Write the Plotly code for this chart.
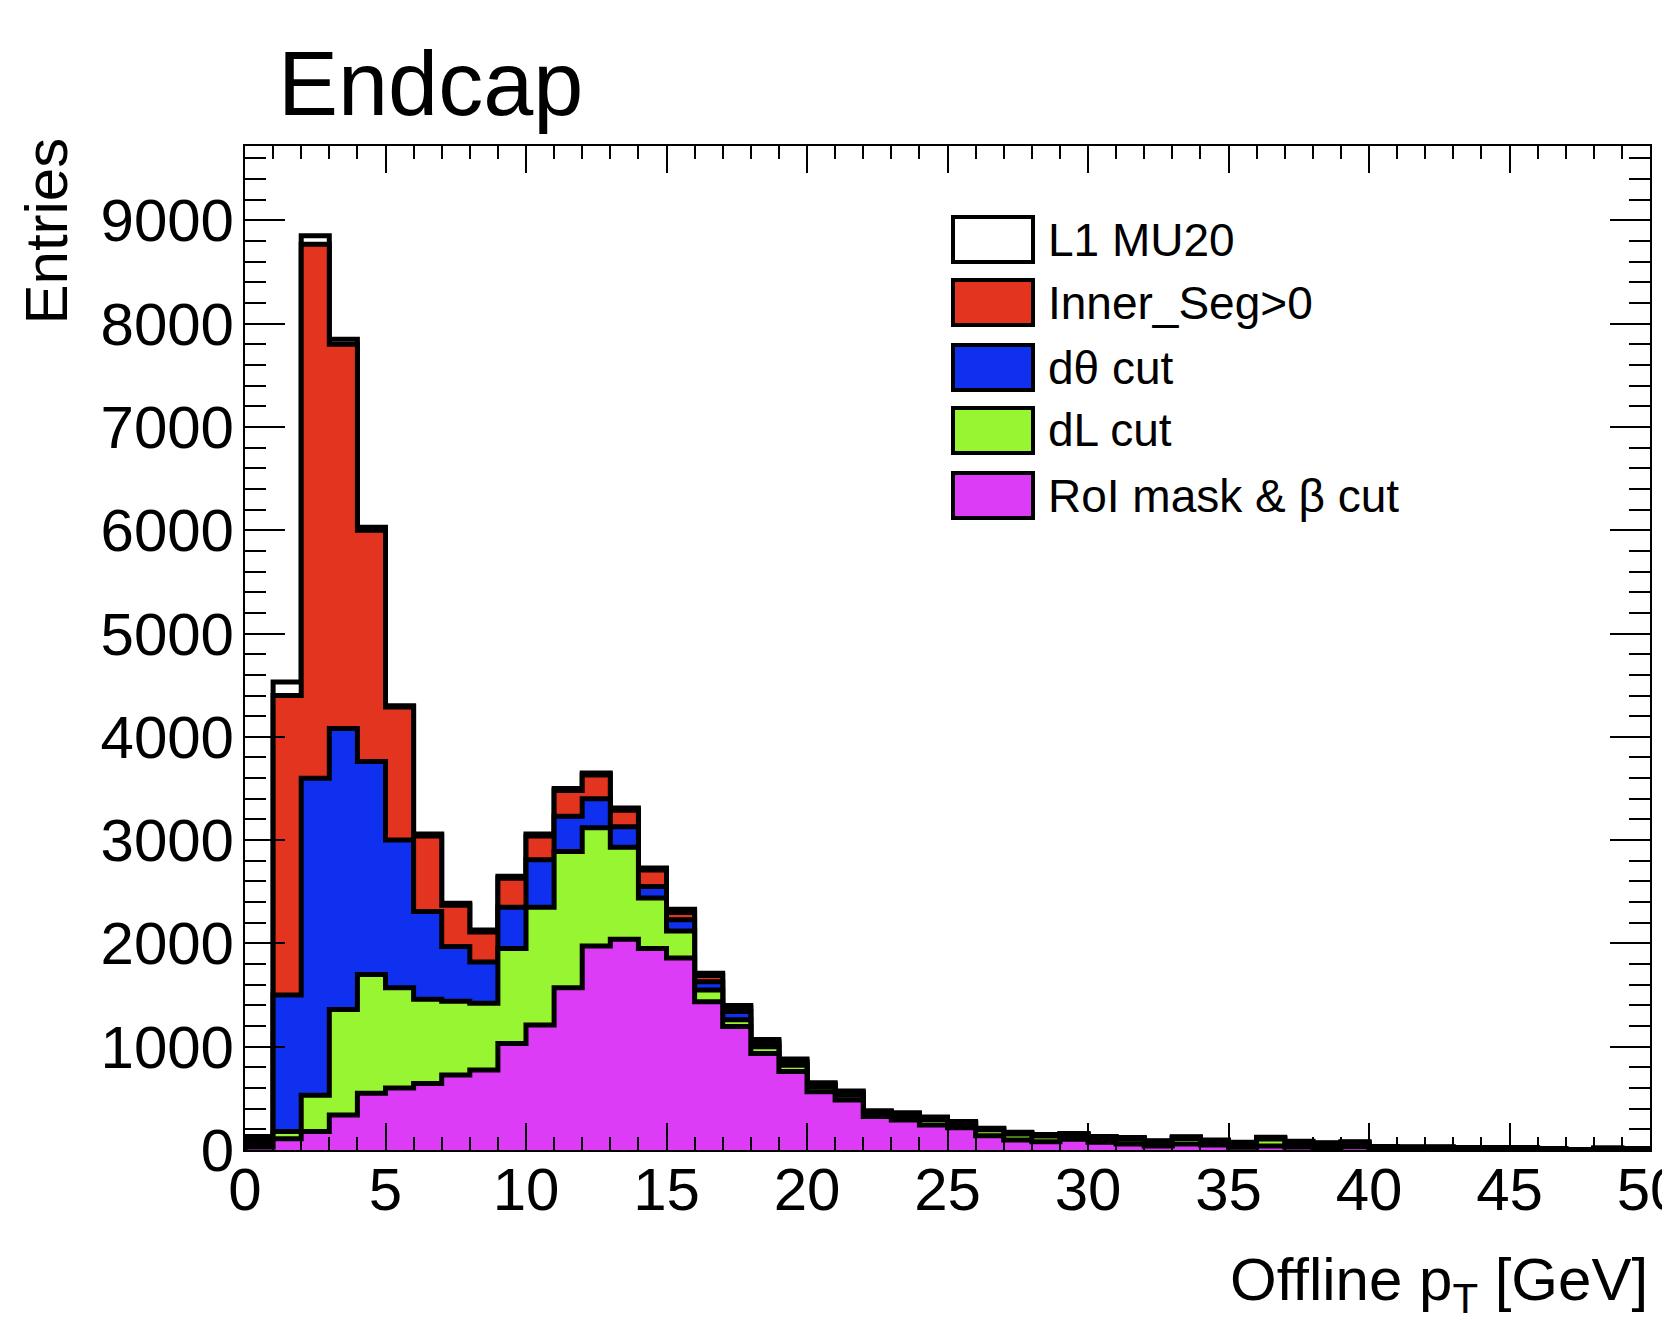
import plotly.graph_objects as go

# ---------------- data ----------------
bin_edges = list(range(0, 51))  # 50 bins of 1 GeV, 0-50 GeV

l1_mu20 = [130, 4530, 8850, 7850, 6030, 4300, 3060, 2390, 2130, 2650,
           3060, 3500, 3650, 3310, 2730, 2330, 1710, 1400, 1070, 880,
           650, 570, 380, 360, 320, 275, 210, 171, 150, 160,
           130, 120, 90, 128, 97, 75, 123, 85, 70, 80,
           35, 30, 30, 25, 25, 25, 15, 5, 20, 15]

inner_seg = [100, 4400, 8770, 7800, 6000, 4290, 3040, 2370, 2110, 2630,
             3040, 3480, 3630, 3290, 2710, 2300, 1690, 1380, 1050, 860,
             640, 560, 370, 350, 310, 265, 205, 165, 145, 155,
             125, 115, 85, 123, 92, 70, 118, 80, 65, 75,
             33, 28, 28, 23, 23, 22, 14, 4, 18, 13]

dtheta_cut = [60, 1500, 3600, 4080, 3760, 3000, 2310, 1970, 1820, 2350,
              2810, 3230, 3400, 3130, 2550, 2230, 1630, 1340, 1030, 845,
              630, 550, 365, 345, 305, 260, 200, 160, 140, 150,
              120, 110, 80, 118, 88, 66, 112, 76, 62, 70,
              30, 26, 26, 21, 21, 20, 12, 3, 16, 12]

dl_cut = [40, 180, 530, 1360, 1700, 1570, 1460, 1440, 1420, 1950,
          2350, 2890, 3120, 2930, 2440, 2120, 1550, 1260, 1000, 820,
          610, 530, 355, 335, 295, 252, 195, 155, 135, 145,
          115, 105, 76, 112, 84, 62, 107, 72, 58, 66,
          28, 24, 24, 20, 20, 18, 11, 3, 15, 11]

roi_beta_cut = [30, 110, 180, 340, 550, 600, 645, 725, 775, 1030,
                1210, 1570, 1975, 2040, 1950, 1860, 1435, 1195, 935, 760,
                565, 485, 325, 290, 242, 215, 139, 97, 81, 103,
                74, 58, 39, 58, 48, 26, 39, 30, 25, 32,
                8, 5, 5, 3, 3, 2, 2, 0, 2, 1]

series_names = ["L1 MU20", "Inner_Seg>0", "d\u03b8 cut", "dL cut", "RoI mask & \u03b2 cut"]
series_values = [l1_mu20, inner_seg, dtheta_cut, dl_cut, roi_beta_cut]
series_colors = ["#FFFFFF", "#E3341F", "#1030F0", "#98F532", "#DC3CF5"]

x_ticks = list(range(0, 51, 5))
y_ticks = list(range(0, 9001, 1000))

# ---------------- figure ----------------
FONT = "Liberation Sans, Arial, Helvetica, sans-serif"
PAGE_OFFSET = 8                      # default body margin of the html page
W, H = 1670 - PAGE_OFFSET, 1325 - PAGE_OFFSET
L, R, T, B = 245 - PAGE_OFFSET, 20, 146 - PAGE_OFFSET, 175
PW, PH = W - L - R, H - T - B


def px(xp):
    """reference-screen pixel x -> paper x"""
    return (xp - PAGE_OFFSET - L) / PW


def py(yp):
    """reference-screen pixel y -> paper y"""
    return (H - B - (yp - PAGE_OFFSET)) / PH


fig = go.Figure()

for name, vals, col in zip(series_names, series_values, series_colors):
    xs = [bin_edges[0]] + bin_edges
    ys = [0] + list(vals) + [0]
    fig.add_trace(go.Scatter(
        x=xs, y=ys, mode="lines", name=name,
        line=dict(shape="hv", color="black", width=5),
        fill="tozeroy", fillcolor=col, showlegend=False,
        hoverinfo="skip"))

axis_common = dict(
    showline=True, linecolor="black", linewidth=2, mirror="allticks",
    ticks="inside", tickcolor="black", tickwidth=2,
    showgrid=False, zeroline=False, ticklabeloverflow="allow",
    tickfont=dict(family=FONT, size=60, color="black"),
)

fig.update_xaxes(range=[0, 50], tickvals=x_ticks, ticklen=27,
                 ticklabelstandoff=-14,
                 minor=dict(dtick=1, ticklen=13, ticks="inside", tickwidth=2,
                            tickcolor="black", showgrid=False),
                 **axis_common)
fig.update_yaxes(range=[0, 9720], tickvals=y_ticks, ticklen=40,
                 ticklabelstandoff=-3,
                 minor=dict(dtick=200, ticklen=21, ticks="inside", tickwidth=2,
                            tickcolor="black", showgrid=False),
                 **axis_common)

annotations = [
    dict(text="Endcap", xref="paper", yref="paper", x=px(276), y=py(84),
         xanchor="left", yanchor="middle", showarrow=False,
         font=dict(family=FONT, size=90, color="black")),
    dict(text="Entries", xref="paper", yref="paper", x=px(46), y=py(136),
         xanchor="center", yanchor="top", textangle=-90, showarrow=False,
         font=dict(family=FONT, size=60, color="black")),
    dict(text="Offline p<sub>T</sub> [GeV]", xref="paper", yref="paper",
         x=px(1650), y=py(1244), xanchor="right", yanchor="top", showarrow=False,
         font=dict(family=FONT, size=60, color="black")),
]

shapes = []
box_tops = [217, 280, 345, 408, 473]
for name, col, top in zip(series_names, series_colors, box_tops):
    shapes.append(dict(type="rect", xref="paper", yref="paper",
                       x0=px(953), x1=px(1033), y0=py(top + 45), y1=py(top),
                       fillcolor=col, line=dict(color="black", width=4)))
    annotations.append(dict(text=name, xref="paper", yref="paper",
                            x=px(1046), y=py(top + 22.5), xanchor="left",
                            yanchor="middle", showarrow=False,
                            font=dict(family=FONT, size=46, color="black")))

fig.update_layout(
    width=W, height=H,
    margin=dict(l=L, r=R, t=T, b=B, autoexpand=False),
    paper_bgcolor="white", plot_bgcolor="white",
    showlegend=False,
    annotations=annotations, shapes=shapes,
)

fig.write_html("out.html")
